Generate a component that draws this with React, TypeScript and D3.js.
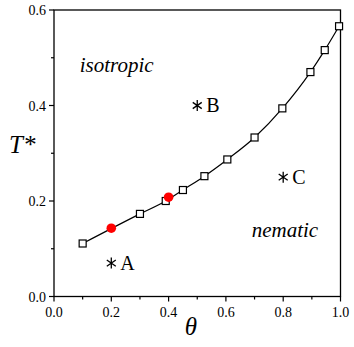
import React from "react";
import * as d3 from "d3";

const boundaryTheta = [0.1, 0.3, 0.39, 0.45, 0.525, 0.605, 0.7, 0.797, 0.895, 0.945, 0.995];
const boundaryT = [0.111, 0.173, 0.2, 0.223, 0.252, 0.287, 0.333, 0.394, 0.47, 0.516, 0.566];
const redTheta = [0.2, 0.4];
const redT = [0.143, 0.208];
const starLabels = ["A", "B", "C"];
const starTheta = [0.2, 0.5, 0.8];
const starT = [0.07, 0.4, 0.25];
const majorTicks = [0, 0.2, 0.4, 0.6, 0.8, 1.0];
const minorTicksX = [0.1, 0.3, 0.5, 0.7, 0.9];
const majorTicksY = [0, 0.2, 0.4, 0.6];
const minorTicksY = [0.1, 0.3, 0.5];
const regionLabels = ["isotropic", "nematic"];
const regionTheta = [0.09, 0.69];
const regionT = [0.47, 0.125];

const FONT = "Liberation Serif";

export default function App() {
  const left = 54, right = 340.5, top = 10, bottom = 296.5;
  const x = d3.scaleLinear().domain([0, 1]).range([left, right]);
  const y = d3.scaleLinear().domain([0, 0.6]).range([bottom, top]);
  const pts = boundaryTheta.map((t, i) => [t, boundaryT[i]] as [number, number]);
  const line = d3
    .line<[number, number]>()
    .x((d) => x(d[0]))
    .y((d) => y(d[1]))
    .curve(d3.curveMonotoneX);
  const sq = 7;
  const starR = 5.5;
  const starPath = (cx: number, cy: number) => {
    let p = `M${cx},${cy - starR}L${cx},${cy + starR}`;
    for (const a of [35, 145]) {
      const r = (a * Math.PI) / 180;
      p += `M${cx - starR * Math.cos(r)},${cy - starR * Math.sin(r)}L${cx + starR * Math.cos(r)},${cy + starR * Math.sin(r)}`;
    }
    return p;
  };
  const ts = { fontFamily: FONT };
  return (
    <svg width={354} height={347} style={{ position: "absolute", left: 0, top: 0, background: "#fff" }}>
      <rect x={0} y={0} width={354} height={347} fill="#fff" />
      <rect x={left} y={top} width={right - left} height={bottom - top} fill="none" stroke="#000" strokeWidth={1.3} />
      {majorTicks.map((t) => (
        <g key={"xm" + t}>
          <line x1={x(t)} x2={x(t)} y1={bottom} y2={bottom + 5} stroke="#000" strokeWidth={1.2} />
          <text x={x(t)} y={317} fontSize={14} textAnchor="middle" fill="#000" style={ts}>
            {t.toFixed(1)}
          </text>
        </g>
      ))}
      {minorTicksX.map((t) => (
        <line key={"xn" + t} x1={x(t)} x2={x(t)} y1={bottom} y2={bottom + 3} stroke="#000" strokeWidth={1.2} />
      ))}
      {majorTicksY.map((t) => (
        <g key={"ym" + t}>
          <line x1={left - 5} x2={left} y1={y(t)} y2={y(t)} stroke="#000" strokeWidth={1.2} />
          <text x={46} y={y(t) + 5} fontSize={14} textAnchor="end" fill="#000" style={ts}>
            {t.toFixed(1)}
          </text>
        </g>
      ))}
      {minorTicksY.map((t) => (
        <line key={"yn" + t} x1={left - 3} x2={left} y1={y(t)} y2={y(t)} stroke="#000" strokeWidth={1.2} />
      ))}
      <text x={9} y={153} fontSize={25} fontStyle="italic" fill="#000" style={ts}>
        T*
      </text>
      <text x={191} y={335} fontSize={25} fontStyle="italic" textAnchor="middle" fill="#000" style={ts}>
        θ
      </text>
      <path d={line(pts) || ""} fill="none" stroke="#000" strokeWidth={1.2} />
      {pts.map((d, i) => (
        <rect
          key={"s" + i}
          x={x(d[0]) - sq / 2}
          y={y(d[1]) - sq / 2}
          width={sq}
          height={sq}
          fill="#fff"
          stroke="#000"
          strokeWidth={1.2}
        />
      ))}
      {redTheta.map((t, i) => (
        <circle key={"r" + i} cx={x(t)} cy={y(redT[i])} r={4.8} fill="#ff0000" />
      ))}
      {starLabels.map((l, i) => (
        <g key={"st" + l}>
          <path d={starPath(x(starTheta[i]), y(starT[i]))} stroke="#000" strokeWidth={1.3} />
          <text x={x(starTheta[i]) + 9} y={y(starT[i]) + 6.5} fontSize={20} fill="#000" style={ts}>
            {l}
          </text>
        </g>
      ))}
      {regionLabels.map((l, i) => (
        <text key={l} x={x(regionTheta[i])} y={y(regionT[i])} fontSize={21} fontStyle="italic" fill="#000" style={ts}>
          {l}
        </text>
      ))}
    </svg>
  );
}
